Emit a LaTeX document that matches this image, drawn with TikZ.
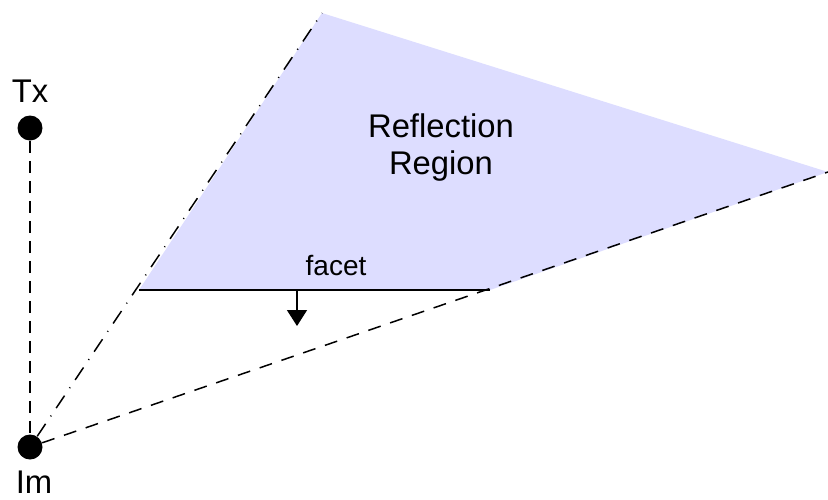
\documentclass[tikz,border=0pt]{standalone}
\usepackage{fontspec}
\setmainfont{Liberation Sans}
\usetikzlibrary{arrows.meta}
\definecolor{regionfill}{RGB}{221,221,255}

\begin{document}
\begin{tikzpicture}[x=0.5pt,y=-0.5pt,
  dot/.style={circle,fill=black,inner sep=0pt,minimum size=12.5pt},
  big/.style={font=\fontsize{16.4}{18.5}\selectfont},
  small/.style={font=\fontsize{14}{16}\selectfont},
  ray/.style={line width=0.75pt}]
\useasboundingbox (0,0) rectangle (828,499);
% reflection region
\coordinate (top) at (322,13);
\coordinate (right) at (828,172);
\coordinate (fl) at (139,290);
\coordinate (fr) at (490,290);
\fill[regionfill] (fl) -- (top) -- (right) -- (fr) -- cycle;
\node[big,align=center] (region) at (441,148) {Reflection\\Region};
% transmitter and image
\node[dot] (tx) at (30,128) {};
\node[dot] (im) at (30,447) {};
\node[big,anchor=base] (txlabel) at (30,102) {Tx};
\node[big,anchor=base] (imlabel) at (34,493) {Im};
\draw[ray,dash pattern=on 6pt off 4pt] (tx) -- (im);
\draw[ray,dash pattern=on 7.5pt off 4.5pt on 0.5pt off 4.5pt] (im) -- (top);
\draw[ray,dash pattern=on 6.5pt off 5pt] (im) -- (right);
% facet and its normal
\draw[line width=1.1pt] (fl) -- (fr);
\node[small,anchor=base] (facetlabel) at (336,275) {facet};
\coordinate (n0) at (297,290);
\coordinate (n1) at (297,326);
\draw[line width=0.75pt,-{Triangle[width=10pt,length=8pt]}] (n0) -- (n1);
\end{tikzpicture}
\end{document}
